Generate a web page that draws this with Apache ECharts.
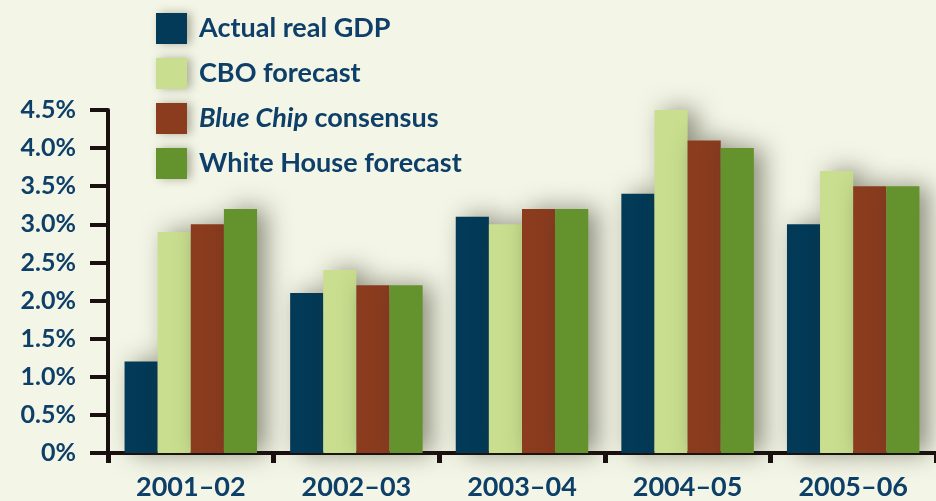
<!DOCTYPE html>
<html><head><meta charset="utf-8">
<script src="https://cdn.jsdelivr.net/npm/echarts@6/dist/echarts.min.js"></script>
<style>html,body{margin:0;padding:0;background:#f3f5e6;}#c{width:936px;height:501px;}</style>
</head><body><div id="c"></div>
<script>
const categories = ['2001–02','2002–03','2003–04','2004–05','2005–06'];
const actualGDP = [1.2, 2.1, 3.1, 3.4, 3.0];
const cboForecast = [2.9, 2.4, 3.0, 4.5, 3.7];
const blueChip = [3.0, 2.2, 3.2, 4.1, 3.5];
const whiteHouse = [3.2, 2.2, 3.2, 4.0, 3.5];
const seriesNames = ['Actual real GDP','CBO forecast','Blue Chip consensus','White House forecast'];
const colors = ['#033a58','#c9df8f','#8b3c1f','#64922c'];
const yTicks = [0,0.5,1,1.5,2,2.5,3,3.5,4,4.5];

const navy = '#0d3f68';
const font = 'Lato';
const shadow = {shadowBlur: 24, shadowColor: 'rgba(40,40,20,0.5)', shadowOffsetX: 9, shadowOffsetY: 0};
const data = [actualGDP, cboForecast, blueChip, whiteHouse];

const chart = echarts.init(document.getElementById('c'));
chart.setOption({
  backgroundColor: '#f3f5e6',
  animation: false,
  legend: {
    orient: 'vertical', left: 156, top: 13, padding: 0, itemWidth: 31, itemHeight: 31, itemGap: 14,
    icon: 'rect',
    data: seriesNames,
    itemStyle: {shadowBlur: 10, shadowColor: 'rgba(40,40,20,0.35)', shadowOffsetX: 4},
    textStyle: {color: navy, fontFamily: font, fontSize: 27, fontWeight: 'bold', padding: [0,0,0,7],
      rich: {i: {fontStyle: 'italic', fontWeight: 'bold', fontFamily: font, fontSize: 27, color: navy}}},
    formatter: n => n === 'Blue Chip consensus' ? '{i|Blue Chip} consensus' : n
  },
  grid: {left: 108, right: -7, top: 110, bottom: 45},
  xAxis: {
    type: 'category', data: categories,
    axisLine: {lineStyle: {color: '#1a1010', width: 4}},
    axisTick: {show: true, length: 10, lineStyle: {color: '#1a1010', width: 5}},
    axisLabel: {color: navy, fontFamily: font, fontSize: 27, fontWeight: 'bold', margin: 21}
  },
  yAxis: {
    type: 'value', min: 0, max: 4.5, interval: 0.5,
    axisLine: {show: true, lineStyle: {color: '#1a1010', width: 4}},
    axisTick: {show: true, length: 18, lineStyle: {color: '#1a1010', width: 4}},
    splitLine: {show: false},
    axisLabel: {color: navy, fontFamily: font, fontSize: 25, fontWeight: 'bold', margin: 32,
      formatter: v => { const t = yTicks.find(x => Math.abs(x - v) < 1e-9); return t === 0 ? '0%' : t.toFixed(1) + '%'; }}
  },
  series: seriesNames.map((n, i) => ({
    name: n, type: 'bar', data: data[i], barGap: '0%', barCategoryGap: '20%',
    itemStyle: Object.assign({color: colors[i]}, shadow)
  }))
});
</script></body></html>
